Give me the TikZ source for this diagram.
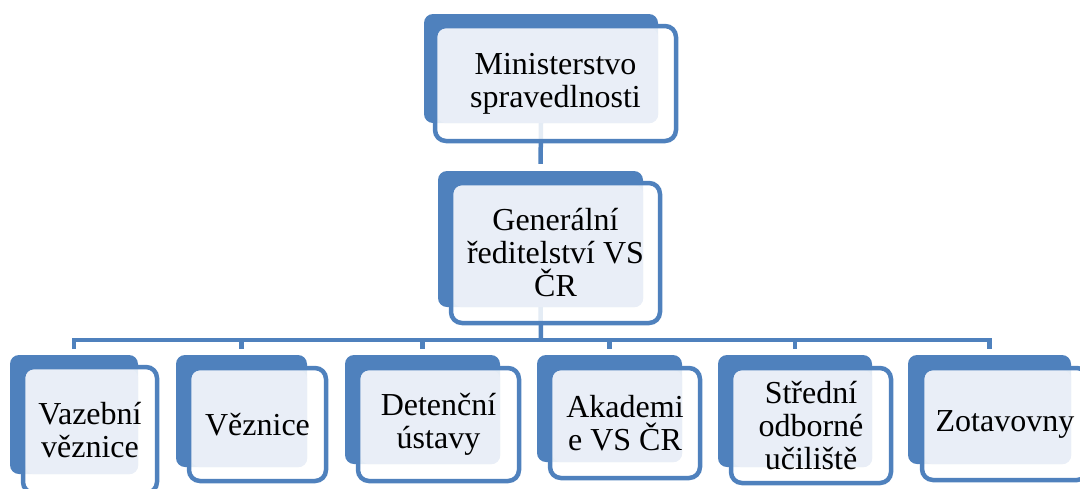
\documentclass[tikz,border=0pt]{standalone}
\usepackage{fontspec}
\setmainfont{Liberation Serif}
\definecolor{modra}{HTML}{4F81BD}
\definecolor{svetla}{HTML}{E9EEF7}
\tikzset{
  zadni/.style={fill=modra, rounded corners=9pt, inner sep=0pt},
  predni/.style={draw=modra, line width=4.5pt, fill=white, fill opacity=0.85,
    text opacity=1, rounded corners=11pt, inner sep=0pt, align=center,
    font=\fontsize{32}{33}\selectfont,
    path picture={\fill[svetla, fill opacity=1, rounded corners=9pt]
      ([shift={(2pt,-2pt)}]path picture bounding box.north west) rectangle (#1.south east);}},
  spoj/.style={draw=modra, line width=4.5pt},
}
\begin{document}
\begin{tikzpicture}[x=1pt, y=-1pt]
    \useasboundingbox (0,0) rectangle (1080,488);
    \clip (0,0) rectangle (1080,488);

    % Back boxes
    \node[zadni, minimum width=234, minimum height=109] (ms-b) at (541,68.5) {};
    \node[zadni, minimum width=205, minimum height=136] (gr-b) at (540.5,239) {};
    \node[zadni, minimum width=128, minimum height=119] (vv-b) at (74,414.5) {};
    \node[zadni, minimum width=131, minimum height=112] (ve-b) at (241.5,411) {};
    \node[zadni, minimum width=155, minimum height=109] (du-b) at (422.5,409.5) {};
    \node[zadni, minimum width=145, minimum height=107] (ak-b) at (609.5,408.5) {};
    \node[zadni, minimum width=154, minimum height=112] (so-b) at (795,411) {};
    \node[zadni, minimum width=163, minimum height=109] (zo-b) at (989.5,409.5) {};

    % Connectors
    \coordinate (rozcesti) at (541,340);
    \draw[spoj, shorten >=7pt] (ms-b.south) -- (gr-b.north);
    \draw[spoj] (gr-b.south) -- (rozcesti);
    \draw[spoj, shorten <=6pt, shorten >=6pt] (vv-b.north) -- (vv-b.north |- rozcesti)
      -- (zo-b.north |- rozcesti) -- (zo-b.north);
    \draw[spoj, shorten >=6pt] (ve-b.north |- rozcesti) -- (ve-b.north);
    \draw[spoj, shorten >=6pt] (du-b.north |- rozcesti) -- (du-b.north);
    \draw[spoj, shorten >=6pt] (ak-b.north |- rozcesti) -- (ak-b.north);
    \draw[spoj, shorten >=6pt] (so-b.north |- rozcesti) -- (so-b.north);

    % Front boxes with text
    \node[predni=ms-b, minimum width=241, minimum height=115] (ms) at (555.5,83.5)
      {Ministerstvo\\spravedlnosti};
    \node[predni=gr-b, minimum width=209, minimum height=140] (gr) at (555.5,253)
      {Generální\\ředitelství VS\\ČR};
    \node[predni=vv-b, minimum width=134, minimum height=126] (vv) at (90,430)
      {Vazební\\věznice};
    \node[predni=ve-b, minimum width=137, minimum height=113] (ve) at (257.5,424.5)
      {Věznice};
    \node[predni=du-b, minimum width=161, minimum height=113] (du) at (438.5,424.5)
      {Detenční\\ústavy};
    \node[predni=ak-b, minimum width=150, minimum height=110] (ak) at (625,423)
      {Akademi\\e VS ČR};
    \node[predni=so-b, minimum width=160, minimum height=115] (so) at (811,425.5)
      {Střední\\odborné\\učiliště};
    \node[predni=zo-b, minimum width=166, minimum height=112] (zo) at (1005,424)
      {Zotavovny};
\end{tikzpicture}
\end{document}
